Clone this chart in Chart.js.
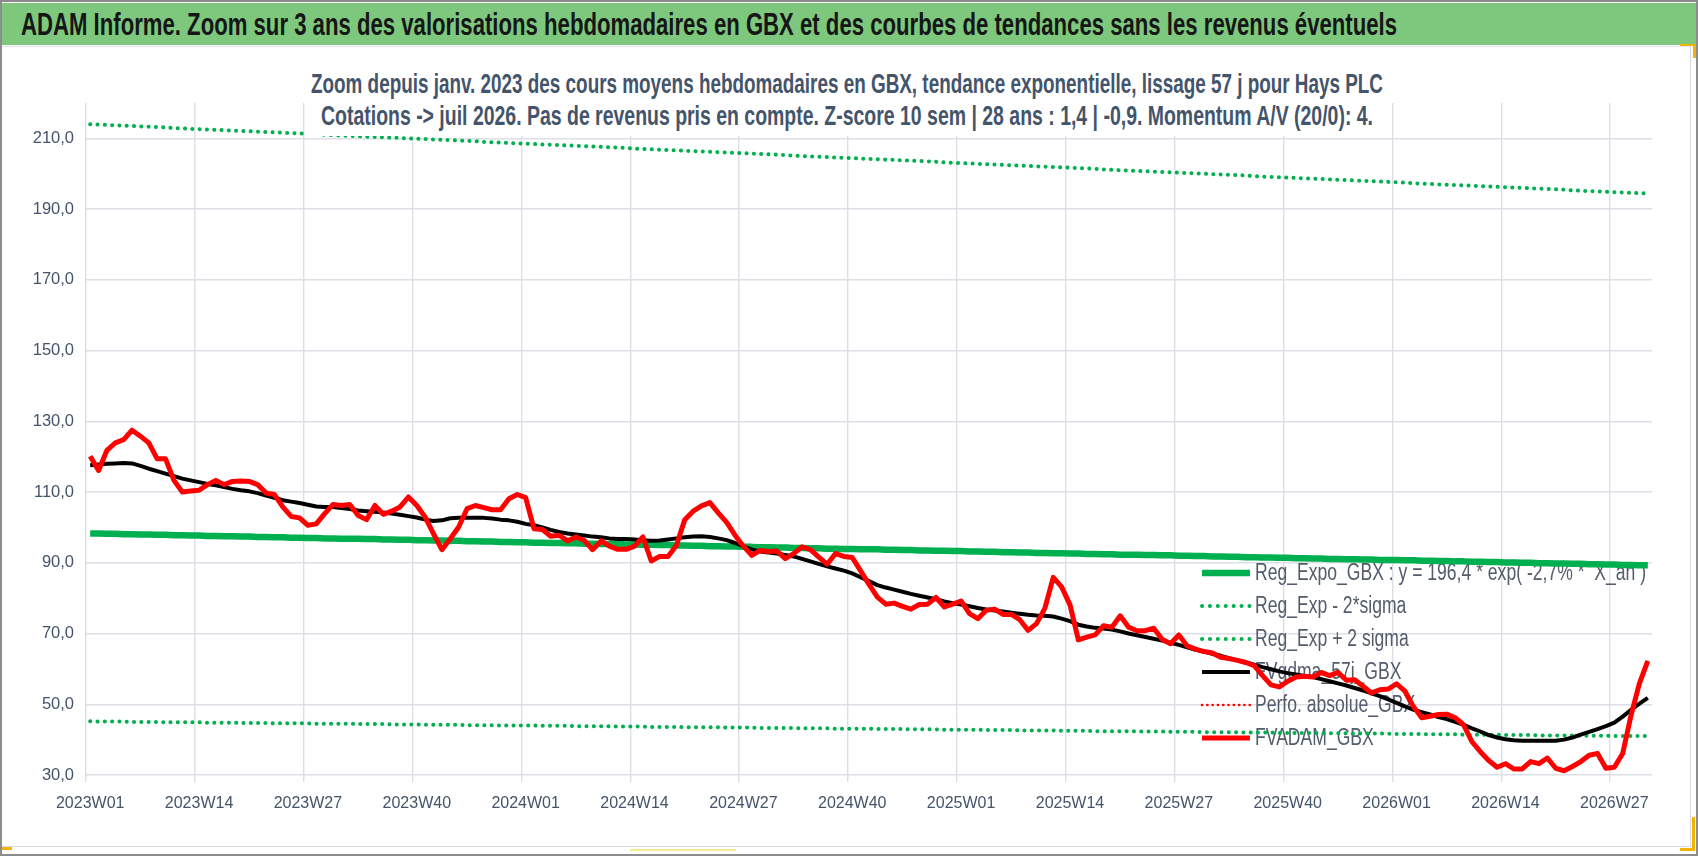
<!DOCTYPE html>
<html lang="fr">
<head>
<meta charset="utf-8">
<title>ADAM Informe - Hays PLC</title>
<script src="https://cdn.jsdelivr.net/npm/chart.js@4.4.1/dist/chart.umd.min.js"></script>
<style>
  html, body { margin: 0; padding: 0; background: #fff; }
  #page { position: relative; width: 1698px; height: 856px; overflow: hidden;
          font-family: "Liberation Sans", Arial, sans-serif; }
  #cadre { position: absolute; left: 0; top: 0; width: 1698px; height: 856px; box-sizing: border-box; border: 2px solid #8c8c8c; }
  #bandeau { position: absolute; left: 2px; top: 3px; width: 1694px; height: 42px; background: #7ec87e; }
  #bandeau span { position: absolute; left: 19px; top: 0; line-height: 42px; font-weight: bold; font-size: 32px;
                  color: #161616; white-space: nowrap; transform-origin: left center; }
  #boite { position: absolute; left: 2px; top: 46px; width: 1689px; height: 801px; background: #fff;
           border-top: 1px solid #e3e6ea; border-right: 1px solid #d6dae0; border-bottom: 1px solid #d6dae0; box-sizing: border-box; }
  #zoneGraphe { position: absolute; left: 0; top: 0; width: 1698px; height: 856px; z-index: 2; }
  #sousTitre { position: absolute; left: 305px; top: 62px; width: 1084px; height: 74px; background: #fff; z-index: 3; }
  .ligne { position: absolute; left: 542px; font-weight: bold; font-size: 27px; line-height: 31.7px; color: #44546a;
           white-space: nowrap; transform-origin: center center; }
  .poignee { position: absolute; background: #f2b400; z-index: 4; }
</style>
</head>
<body>
<div id="page">
  <div id="cadre"></div>
  <div id="bandeau"><span id="titre">ADAM Informe. Zoom sur 3 ans des valorisations hebdomadaires en GBX et des courbes de tendances sans les revenus éventuels</span></div>
  <div id="boite"></div>
  <div id="zoneGraphe"><canvas id="graphe"></canvas></div>
  <div id="sousTitre">
    <span id="ligne1" class="ligne" style="top:7px">Zoom depuis janv. 2023 des cours moyens hebdomadaires en GBX, tendance exponentielle, lissage 57 j pour Hays PLC</span>
    <span id="ligne2" class="ligne" style="top:38.8px">Cotations -&gt; juil 2026. Pas de revenus pris en compte. Z-score 10 sem | 28 ans : 1,4 | -0,9. Momentum A/V (20/0): 4.</span>
  </div>
  <div class="poignee" style="left:1680px;top:44px;width:16px;height:2px"></div>
  <div class="poignee" style="left:1693px;top:44px;width:3px;height:14px"></div>
  <div class="poignee" style="left:1692px;top:817px;width:3px;height:34px"></div>
  <div class="poignee" style="left:1680px;top:848px;width:15px;height:3px"></div>
  <div class="poignee" style="left:2px;top:847px;width:10px;height:3px"></div>
  <div class="poignee" style="left:630px;top:849px;width:106px;height:2px;background:#f3ec8e"></div>
</div>
<script>
// categories : semaines ISO affichees
const annees = [2023, 2024, 2025, 2026];
const semainesParAnnee = [52, 52, 52, 31];
const ticksY = [30, 50, 70, 90, 110, 130, 150, 170, 190, 210];
const pasEtiquette = 13;

// FVADAM_GBX (cours moyen hebdo)
const fvadam = [
  120.1,116.1,121.8,123.9,124.8,127.5,125.8,123.9,119.4,119.4,
  113.3,110.0,110.3,110.5,112.1,113.3,112.1,113.0,113.1,113.0,
  112.1,109.7,109.3,105.8,103.1,102.7,100.6,101.0,103.9,106.5,
  106.2,106.5,103.4,102.2,106.2,103.7,104.6,105.8,108.6,106.2,
  102.9,98.2,93.7,96.8,100.1,105.3,106.2,105.6,105.0,105.0,
  108.1,109.3,108.4,99.6,99.4,97.5,97.8,96.2,97.3,96.3,
  93.7,96.2,94.7,93.8,93.8,94.7,97.3,90.5,91.8,91.8,
  94.9,102.2,104.6,106.1,107.0,104.1,101.4,97.8,94.7,92.1,
  93.5,93.2,93.3,91.2,92.6,94.5,93.7,91.6,89.6,92.6,
  91.8,91.5,87.7,83.9,80.3,78.3,78.6,77.7,76.9,78.2,
  78.3,80.2,77.5,78.3,79.2,75.6,74.2,76.6,76.9,75.4,
  75.4,73.9,70.9,72.8,77.1,85.9,83.2,78.1,68.2,69.0,
  69.6,72.2,71.8,75.0,71.8,70.8,70.8,71.5,68.4,67.1,
  69.6,66.5,65.6,64.9,64.5,63.3,62.9,62.4,61.8,60.9,
  58.1,55.5,54.9,56.5,57.7,57.9,57.7,59.0,58.1,59.0,
  56.8,56.9,55.1,53.2,54.1,54.3,55.8,53.7,49.4,46.2,
  46.6,47.1,47.2,46.2,44.2,39.4,36.6,34.1,32.2,33.2,
  31.7,31.7,33.8,33.2,34.8,31.9,31.2,32.4,33.8,35.6,
  36.1,31.9,32.2,36.1,46.9,55.9,62.3
];

// FVgdma_57j_GBX (lissage)
const fvgdma57 = [
  117.6,117.8,118.0,118.1,118.2,118.1,117.4,116.6,115.9,115.2,
  114.5,113.8,113.3,112.8,112.3,111.9,111.4,110.9,110.5,110.2,
  109.7,109.0,108.4,107.7,107.3,106.9,106.4,105.9,105.8,105.8,
  105.5,105.2,104.8,104.6,104.4,104.2,103.9,103.6,103.2,102.8,
  102.2,101.8,102.0,102.6,102.7,102.7,102.7,102.7,102.5,102.2,
  102.0,101.6,101.0,100.6,100.0,99.3,98.7,98.3,98.0,97.7,
  97.4,97.2,96.9,96.7,96.7,96.6,96.4,96.2,96.3,96.6,
  96.9,97.2,97.4,97.5,97.3,96.9,96.4,95.6,94.6,93.8,
  93.2,92.9,92.6,92.2,91.8,91.1,90.4,89.7,89.0,88.4,
  87.8,87.0,85.9,84.8,83.7,83.0,82.4,81.8,81.2,80.7,
  80.2,79.7,79.1,78.6,78.2,77.7,77.2,76.8,76.5,76.2,
  75.9,75.6,75.3,75.1,75.0,74.8,74.2,73.5,72.5,72.0,
  71.6,71.4,71.1,70.6,70.0,69.5,69.0,68.5,68.0,67.4,
  66.8,66.1,65.4,64.9,64.3,63.7,63.0,62.4,61.8,61.2,
  60.5,59.9,59.3,58.8,58.4,58.0,57.7,57.1,56.5,55.9,
  55.3,54.6,53.9,53.1,52.3,51.4,50.4,49.4,48.5,47.8,
  47.1,46.4,45.8,45.0,44.2,43.2,42.3,41.3,40.6,40.1,
  39.8,39.7,39.7,39.7,39.7,39.7,40.0,40.6,41.4,42.2,
  43.0,43.8,44.8,46.5,48.4,50.2,51.8
];

// Reg_Expo_GBX
const regExpo = [
  98.3,98.3,98.2,98.2,98.1,98.1,98.0,98.0,97.9,97.9,
  97.8,97.8,97.7,97.7,97.6,97.6,97.5,97.5,97.4,97.4,
  97.3,97.3,97.2,97.2,97.1,97.1,97.0,97.0,96.9,96.9,
  96.8,96.8,96.8,96.7,96.7,96.6,96.6,96.5,96.5,96.4,
  96.4,96.3,96.3,96.2,96.2,96.1,96.1,96.0,96.0,95.9,
  95.9,95.8,95.8,95.7,95.7,95.6,95.6,95.5,95.5,95.4,
  95.4,95.3,95.3,95.3,95.2,95.2,95.1,95.1,95.0,95.0,
  94.9,94.9,94.8,94.8,94.7,94.7,94.6,94.6,94.5,94.5,
  94.4,94.4,94.3,94.3,94.2,94.2,94.1,94.1,94.0,94.0,
  93.9,93.9,93.8,93.8,93.8,93.7,93.7,93.6,93.6,93.5,
  93.5,93.4,93.4,93.3,93.3,93.2,93.2,93.1,93.1,93.0,
  93.0,92.9,92.9,92.8,92.8,92.7,92.7,92.6,92.6,92.5,
  92.5,92.4,92.4,92.3,92.3,92.3,92.2,92.2,92.1,92.1,
  92.0,92.0,91.9,91.9,91.8,91.8,91.7,91.7,91.6,91.6,
  91.5,91.5,91.4,91.4,91.3,91.3,91.2,91.2,91.1,91.1,
  91.0,91.0,90.9,90.9,90.8,90.8,90.8,90.7,90.7,90.6,
  90.6,90.5,90.5,90.4,90.4,90.3,90.3,90.2,90.2,90.1,
  90.1,90.0,90.0,89.9,89.9,89.8,89.8,89.7,89.7,89.6,
  89.6,89.5,89.5,89.4,89.4,89.3,89.3
];

// Reg_Exp - 2*sigma
const regMoins2Sigma = [
  45.2,45.1,45.1,45.1,45.1,45.0,45.0,45.0,45.0,44.9,
  44.9,44.9,44.9,44.9,44.8,44.8,44.8,44.8,44.7,44.7,
  44.7,44.7,44.6,44.6,44.6,44.6,44.6,44.5,44.5,44.5,
  44.5,44.5,44.4,44.4,44.4,44.4,44.3,44.3,44.3,44.3,
  44.2,44.2,44.2,44.2,44.2,44.1,44.1,44.1,44.1,44.0,
  44.0,44.0,44.0,44.0,43.9,43.9,43.9,43.9,43.8,43.8,
  43.8,43.8,43.8,43.7,43.7,43.7,43.7,43.6,43.6,43.6,
  43.6,43.5,43.5,43.5,43.5,43.5,43.4,43.4,43.4,43.4,
  43.3,43.3,43.3,43.3,43.3,43.2,43.2,43.2,43.2,43.1,
  43.1,43.1,43.1,43.1,43.0,43.0,43.0,43.0,42.9,42.9,
  42.9,42.9,42.8,42.8,42.8,42.8,42.8,42.7,42.7,42.7,
  42.7,42.6,42.6,42.6,42.6,42.6,42.5,42.5,42.5,42.5,
  42.4,42.4,42.4,42.4,42.4,42.3,42.3,42.3,42.3,42.2,
  42.2,42.2,42.2,42.1,42.1,42.1,42.1,42.1,42.0,42.0,
  42.0,42.0,41.9,41.9,41.9,41.9,41.9,41.8,41.8,41.8,
  41.8,41.7,41.7,41.7,41.7,41.7,41.6,41.6,41.6,41.6,
  41.5,41.5,41.5,41.5,41.4,41.4,41.4,41.4,41.4,41.3,
  41.3,41.3,41.3,41.2,41.2,41.2,41.2,41.2,41.1,41.1,
  41.1,41.1,41.0,41.0,41.0,41.0,41.0
];

// Reg_Exp + 2 sigma
const regPlus2Sigma = [
  214.0,213.9,213.8,213.7,213.6,213.5,213.4,213.3,213.2,213.1,
  212.9,212.8,212.7,212.6,212.5,212.4,212.3,212.2,212.1,212.0,
  211.9,211.8,211.7,211.6,211.5,211.4,211.3,211.2,211.0,210.9,
  210.8,210.7,210.6,210.5,210.4,210.3,210.2,210.1,210.0,209.9,
  209.8,209.7,209.6,209.5,209.4,209.3,209.2,209.0,208.9,208.8,
  208.7,208.6,208.5,208.4,208.3,208.2,208.1,208.0,207.9,207.8,
  207.7,207.6,207.5,207.4,207.3,207.1,207.0,206.9,206.8,206.7,
  206.6,206.5,206.4,206.3,206.2,206.1,206.0,205.9,205.8,205.7,
  205.6,205.5,205.4,205.3,205.1,205.0,204.9,204.8,204.7,204.6,
  204.5,204.4,204.3,204.2,204.1,204.0,203.9,203.8,203.7,203.6,
  203.5,203.4,203.2,203.1,203.0,202.9,202.8,202.7,202.6,202.5,
  202.4,202.3,202.2,202.1,202.0,201.9,201.8,201.7,201.6,201.5,
  201.4,201.2,201.1,201.0,200.9,200.8,200.7,200.6,200.5,200.4,
  200.3,200.2,200.1,200.0,199.9,199.8,199.7,199.6,199.5,199.3,
  199.2,199.1,199.0,198.9,198.8,198.7,198.6,198.5,198.4,198.3,
  198.2,198.1,198.0,197.9,197.8,197.7,197.6,197.5,197.3,197.2,
  197.1,197.0,196.9,196.8,196.7,196.6,196.5,196.4,196.3,196.2,
  196.1,196.0,195.9,195.8,195.7,195.6,195.5,195.3,195.2,195.1,
  195.0,194.9,194.8,194.7,194.6,194.5,194.4
];

// Perfo. absolue_GBX : pas de trace visible sur la fenetre
const perfoAbsolue = [];

const semaines = [];
annees.forEach((an, i) => {
  for (let s = 1; s <= semainesParAnnee[i]; s++) semaines.push(an + 'W' + String(s).padStart(2, '0'));
});

const VERT = '#00b050';
const GRILLE = '#dcdfe5';
const TEXTE_AXE = '#44546a';
const POLICE_AXE = '"Liberation Sans", Arial, sans-serif';

// legende dessinee dans la zone du graphe, sous les courbes
const legendeInterne = {
  id: 'legendeInterne',
  beforeDatasetsDraw(chart) {
    const ctx = chart.ctx;
    const a = chart.chartArea;
    const x0 = a.right - 450, y0 = a.bottom - 202, dy = 33;
    const sets = chart.data.datasets;
    ctx.save();
    ctx.font = '23.5px "Liberation Sans", Arial, sans-serif';
    ctx.textBaseline = 'middle';
    const serre = 391 / ctx.measureText(sets[0].label).width;
    sets.forEach((ds, i) => {
      const y = y0 + i * dy;
      ctx.beginPath();
      ctx.strokeStyle = ds.borderColor;
      ctx.lineWidth = ds.legendeEpaisseur || ds.borderWidth;
      ctx.setLineDash(ds.legendeTirets || ds.borderDash || []);
      ctx.lineCap = ds.borderCapStyle || 'butt';
      ctx.moveTo(x0, y);
      ctx.lineTo(x0 + 48, y);
      ctx.stroke();
      ctx.setLineDash([]);
      ctx.save();
      ctx.translate(x0 + 53, y + 1);
      ctx.scale(serre, 1);
      ctx.fillStyle = '#525c6b';
      ctx.fillText(ds.label, 0, 0);
      ctx.restore();
    });
    ctx.restore();
  }
};

new Chart(document.getElementById('graphe'), {
  type: 'line',
  data: {
    labels: semaines,
    datasets: [
      { label: 'Reg_Expo_GBX : y = 196,4 * exp( -2,7% *  X_an )', data: regExpo, borderColor: VERT,
        borderWidth: 6.5, order: 2 },
      { label: 'Reg_Exp - 2*sigma', data: regMoins2Sigma, borderColor: VERT, borderWidth: 4,
        borderDash: [0.1, 7.2], borderCapStyle: 'round', legendeTirets: [0.1, 7.8], order: 3 },
      { label: 'Reg_Exp + 2 sigma', data: regPlus2Sigma, borderColor: VERT, borderWidth: 4,
        borderDash: [0.1, 7.2], borderCapStyle: 'round', legendeTirets: [0.1, 7.8], order: 3 },
      { label: 'FVgdma_57j_GBX', data: fvgdma57, borderColor: '#000000', borderWidth: 4, order: 1 },
      { label: 'Perfo. absolue_GBX', data: perfoAbsolue, borderColor: '#ff0000', borderWidth: 2.6,
        borderDash: [0.1, 5.2], borderCapStyle: 'round', order: 1 },
      { label: 'FVADAM_GBX', data: fvadam, borderColor: '#ff0000', borderWidth: 5, order: 0 }
    ]
  },
  options: {
    responsive: true,
    maintainAspectRatio: false,
    animation: false,
    layout: { padding: { left: 0, top: 103, right: 46, bottom: 0 } },
    elements: {
      point: { radius: 0, hoverRadius: 0 },
      line: { tension: 0, borderJoinStyle: 'round', fill: false }
    },
    plugins: { legend: { display: false }, tooltip: { enabled: false }, title: { display: false } },
    scales: {
      x: {
        offset: true,
        grid: {
          offset: true,
          color: c => (c.index % pasEtiquette === 0 ? GRILLE : 'rgba(0,0,0,0)'),
          lineWidth: 1.4,
          drawTicks: true,
          tickLength: 7
        },
        border: { display: false },
        ticks: {
          autoSkip: false, maxRotation: 0, minRotation: 0, padding: 12,
          color: TEXTE_AXE, font: { family: POLICE_AXE, size: 16 },
          callback: (v, i) => (i % pasEtiquette === 0 ? semaines[i] : '')
        },
        afterFit: s => { s.height = 81; }
      },
      y: {
        min: 30, max: 220,
        afterBuildTicks: s => { s.ticks = ticksY.map(v => ({ value: v })); },
        grid: { color: GRILLE, lineWidth: 1.4, drawTicks: false },
        border: { display: false },
        ticks: {
          padding: 12, color: TEXTE_AXE, font: { family: POLICE_AXE, size: 16.5 },
          callback: v => v.toFixed(1).replace('.', ',')
        },
        afterFit: s => { s.width = 86; }
      }
    }
  },
  plugins: [legendeInterne]
});

// ajustement horizontal des textes HTML sur la largeur de l'original
function largeurNaturelle(el) {
  el.style.transform = 'none';
  return el.getBoundingClientRect().width;
}
function serrer(el, cible, centre) {
  const f = (cible / largeurNaturelle(el)).toFixed(4);
  el.style.transform = (centre ? 'translateX(-50%) ' : '') + 'scaleX(' + f + ')';
}
serrer(document.getElementById('titre'), 1376, false);
serrer(document.getElementById('ligne1'), 1072, true);
serrer(document.getElementById('ligne2'), 1052, true);
</script>
</body>
</html>
